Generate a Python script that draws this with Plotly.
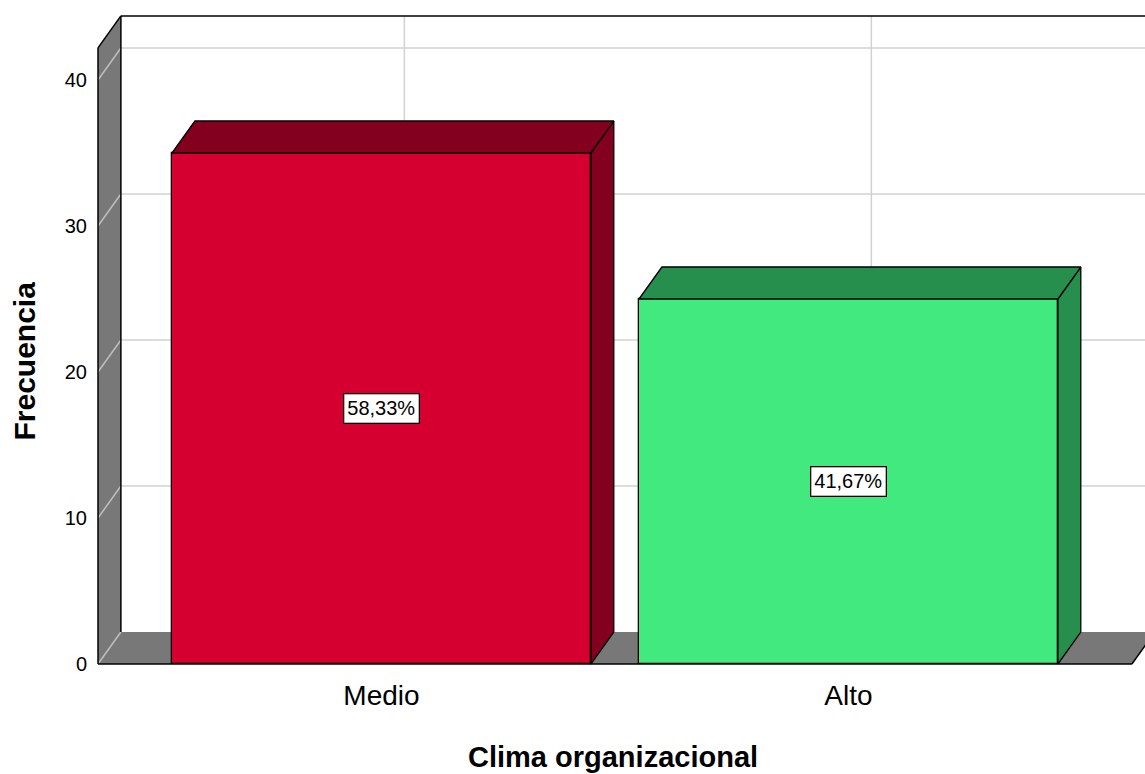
import plotly.graph_objects as go

# Data
categories = ["Medio", "Alto"]
frequencies = [35, 25]
y_ticks = [0, 10, 20, 30, 40]

# Styling
front_colors = ["#D5002F", "#42E97E"]
shade_colors = ["#84001F", "#268F4E"]
wall_color = "#787878"
grid_color = "#D2D2D2"
wall_grid_color = "#BEBEBE"

# Pseudo-3D geometry (in axis units)
BAR_W = 0.897      # bar width, fraction of category spacing
DX = 0.049         # depth offset along x
DY = 2.19          # depth offset along y
Y_TOP = 42.2       # top of the value axis
X_WALL = -0.607    # front edge of the left wall
X_FLOOR_END = 1.607

total = sum(frequencies)
x_pos = list(range(len(categories)))

fig = go.Figure()

# Front faces of the bars
fig.add_trace(go.Bar(
    x=x_pos, y=frequencies, width=BAR_W,
    marker=dict(color=front_colors, line=dict(color="black", width=1.3)),
    hoverinfo="skip", showlegend=False,
))

# Top and side faces of the bars
for i, v in enumerate(frequencies):
    xl, xr = i - BAR_W / 2, i + BAR_W / 2
    top_x = [xl, xl + DX, xr + DX, xr, xl]
    top_y = [v, v + DY, v + DY, v, v]
    side_x = [xr, xr + DX, xr + DX, xr, xr]
    side_y = [0, DY, v + DY, v, 0]
    for px, py in ((side_x, side_y), (top_x, top_y)):
        fig.add_trace(go.Scatter(
            x=px, y=py, mode="lines", fill="toself",
            fillcolor=shade_colors[i],
            line=dict(color="black", width=1.3),
            hoverinfo="skip", showlegend=False,
        ))

shapes = []
# Back wall gridlines (horizontal)
for t in y_ticks[1:]:
    shapes.append(dict(type="line", xref="x", yref="y", layer="below",
                       x0=X_WALL + DX, x1=3, y0=t + DY, y1=t + DY,
                       line=dict(color=grid_color, width=1.5)))
# Back wall gridlines (vertical, at category centres)
for i in x_pos:
    shapes.append(dict(type="line", xref="x", yref="y", layer="below",
                       x0=i + DX, x1=i + DX, y0=DY, y1=Y_TOP + DY,
                       line=dict(color=grid_color, width=1.5)))
# Floor
shapes.append(dict(type="path", xref="x", yref="y", layer="below",
                   path=f"M {X_WALL},0 L {X_WALL + DX},{DY} L {X_FLOOR_END + DX},{DY} L {X_FLOOR_END},0 Z",
                   fillcolor=wall_color, line=dict(width=0)))
# Left wall
shapes.append(dict(type="path", xref="x", yref="y", layer="below",
                   path=f"M {X_WALL},0 L {X_WALL},{Y_TOP} L {X_WALL + DX},{Y_TOP + DY} L {X_WALL + DX},{DY} Z",
                   fillcolor=wall_color, line=dict(width=0)))
# Gridlines across the left wall
for t in y_ticks:
    shapes.append(dict(type="line", xref="x", yref="y", layer="below",
                       x0=X_WALL, x1=X_WALL + DX, y0=t, y1=t + DY,
                       line=dict(color=wall_grid_color, width=1.5)))
# Frame edges
edges = [
    (X_WALL, 0, X_WALL, Y_TOP),
    (X_WALL, Y_TOP, X_WALL + DX, Y_TOP + DY),
    (X_WALL + DX, Y_TOP + DY, X_WALL + DX, DY),
    (X_WALL + DX, Y_TOP + DY, 3, Y_TOP + DY),
    (X_WALL, 0, X_FLOOR_END, 0),
    (X_FLOOR_END, 0, X_FLOOR_END + DX, DY),
]
for x0, y0, x1, y1 in edges:
    shapes.append(dict(type="line", xref="x", yref="y", layer="below",
                       x0=x0, y0=y0, x1=x1, y1=y1,
                       line=dict(color="black", width=1.5)))

# Percentage labels
annotations = []
for i, v in enumerate(frequencies):
    pct = f"{v / total * 100:.2f}%".replace(".", ",")
    annotations.append(dict(
        x=i, y=v / 2, xref="x", yref="y", text=pct, showarrow=False,
        font=dict(family="Liberation Sans, Arial", size=20, color="black"),
        bgcolor="white", bordercolor="black", borderwidth=1.3, borderpad=3,
    ))

# Axis titles
annotations.append(dict(
    text="<b>Frecuencia</b>", xref="paper", yref="paper",
    x=-0.0686, y=0.467, textangle=-90, showarrow=False,
    xanchor="center", yanchor="middle",
    font=dict(family="Liberation Sans, Arial", size=30, color="black"),
))
annotations.append(dict(
    text="<b>Clima organizacional</b>", xref="paper", yref="paper",
    x=0.4929, y=-0.1396, showarrow=False,
    xanchor="center", yanchor="middle",
    font=dict(family="Liberation Sans, Arial", size=29, color="black"),
))

fig.update_layout(
    width=1145, height=774,
    margin=dict(l=96, r=0, t=14, b=108),
    paper_bgcolor="white", plot_bgcolor="white",
    shapes=shapes, annotations=annotations,
    bargap=0, showlegend=False,
    xaxis=dict(
        range=[-0.6113, 1.635], tickvals=x_pos, ticktext=categories,
        showgrid=False, zeroline=False, showline=False, ticks="",
        ticklabelstandoff=10,
        tickfont=dict(family="Liberation Sans, Arial", size=28, color="black"),
    ),
    yaxis=dict(
        range=[-0.137, 44.52], tickvals=y_ticks,
        showgrid=False, zeroline=False, showline=False, ticks="",
        ticklabelstandoff=8,
        tickfont=dict(family="Liberation Sans, Arial", size=20, color="black"),
    ),
)

fig.write_html("out.html")
